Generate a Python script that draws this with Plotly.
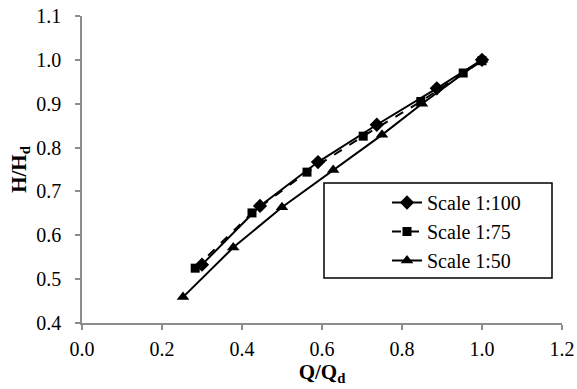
import plotly.graph_objects as go

q100 = [0.30, 0.445, 0.59, 0.737, 0.887, 1.0]
h100 = [0.533, 0.667, 0.767, 0.852, 0.935, 1.0]

q75 = [0.283, 0.425, 0.5625, 0.703, 0.847, 0.953, 1.0]
h75 = [0.525, 0.651, 0.744, 0.826, 0.905, 0.970, 0.998]

q50 = [0.2525, 0.378, 0.50, 0.628, 0.75, 0.85, 1.0]
h50 = [0.459, 0.572, 0.664, 0.749, 0.829, 0.900, 1.0]

series = [
    ("Scale 1:100", q100, h100, "diamond", 11, "solid"),
    ("Scale 1:75", q75, h75, "square", 9, "dash"),
    ("Scale 1:50", q50, h50, "triangle-up", 11, "solid"),
]

SERIF = "Liberation Serif"

fig = go.Figure()
for name, x, y, sym, sz, dash in series:
    fig.add_trace(go.Scatter(
        x=x, y=y, name=name, mode="lines+markers",
        line=dict(color="black", width=2, dash=dash),
        marker=dict(symbol=sym, size=sz, color="black"),
    ))

axis_common = dict(
    showline=True, linecolor="#8c8c8c", linewidth=1.5,
    ticks="outside", tickcolor="#8c8c8c", ticklen=5, tickwidth=1.5,
    showgrid=False, zeroline=False, automargin=False,
    tickfont=dict(family=SERIF, size=20, color="black"),
    tickformat=".1f",
)

# legend frame (paper coordinates)
fig.add_shape(type="rect", xref="paper", yref="paper",
              x0=(324 - 82) / 480, x1=(552 - 82) / 480,
              y0=(323 - 278) / 307, y1=(323 - 183) / 307,
              line=dict(color="black", width=1.5), fillcolor="white", layer="above")

fig.update_layout(
    width=577, height=389,
    margin=dict(l=82, r=15, t=16, b=66),
    paper_bgcolor="white", plot_bgcolor="white",
    font=dict(family=SERIF, color="black"),
    xaxis=dict(range=[0, 1.2], dtick=0.2, ticklabelstandoff=2, **axis_common,
               title=dict(text="<b>Q/Q<sub>d</sub></b>", font=dict(family=SERIF, size=21), standoff=0)),
    yaxis=dict(range=[0.4, 1.1], dtick=0.1, ticklabelstandoff=10, **axis_common,
               title=dict(text="<b>H/H<sub>d</sub></b>", font=dict(family=SERIF, size=21), standoff=4)),
    legend=dict(x=(387 - 82) / 480, y=(323 - 183) / 307, xanchor="left", yanchor="top",
                borderwidth=0, bgcolor="rgba(0,0,0,0)",
                font=dict(family=SERIF, size=20)),
    showlegend=True,
)

fig.write_html("out.html")
